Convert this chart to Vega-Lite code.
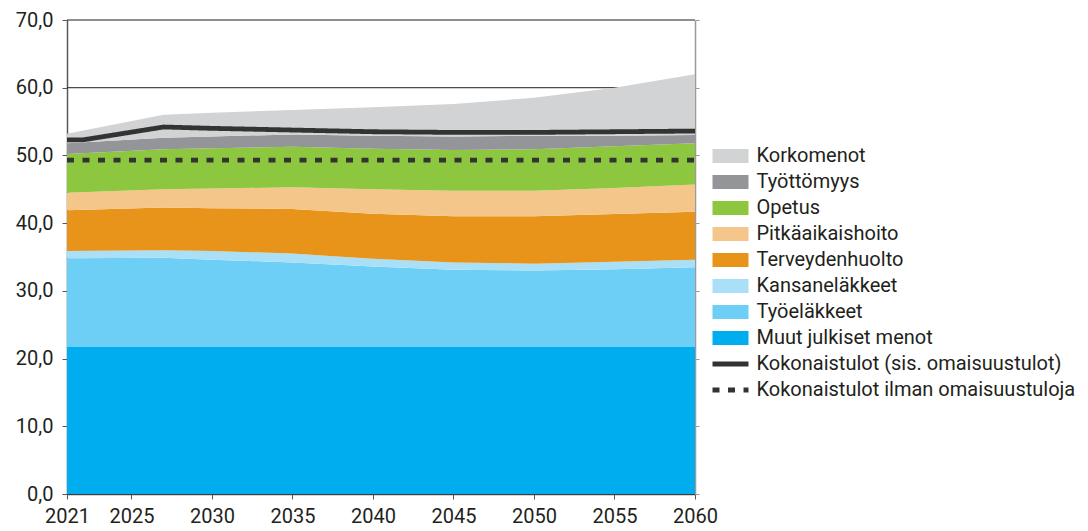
{
  "$schema": "https://vega.github.io/schema/vega-lite/v6.json",
  "width": 628,
  "height": 474,
  "autosize": {"type": "none"},
  "padding": {"left": 67, "top": 20, "right": 393, "bottom": 37},
  "background": "white",
  "config": {
    "view": {"stroke": null},
    "font": "Roboto",
    "axis": {"labelFont": "Roboto", "labelFontSize": 20, "labelColor": "#231f20", "domainColor": "#58595b", "tickColor": "#58595b", "domainWidth": 1.5, "tickWidth": 1, "tickSize": 5, "grid": false, "title": null, "zindex": 1},
    "legend": {"labelFont": "Roboto", "labelFontSize": 20, "labelColor": "#231f20", "labelLimit": 500, "rowPadding": 6, "labelOffset": 16, "symbolSize": 196, "symbolLimit": 20, "title": null}
  },
  "datasets": {
    "areas": [
      {"year": 2021, "Muut julkiset menot": 21.7, "Työeläkkeet": 13.1, "Kansaneläkkeet": 1.1, "Terveydenhuolto": 6.0, "Pitkäaikaishoito": 2.6, "Opetus": 5.7, "Työttömyys": 1.6, "Korkomenot": 1.4},
      {"year": 2027, "Muut julkiset menot": 21.7, "Työeläkkeet": 13.2, "Kansaneläkkeet": 1.1, "Terveydenhuolto": 6.3, "Pitkäaikaishoito": 2.7, "Opetus": 5.9, "Työttömyys": 1.7, "Korkomenot": 3.4},
      {"year": 2030, "Muut julkiset menot": 21.7, "Työeläkkeet": 12.9, "Kansaneläkkeet": 1.3, "Terveydenhuolto": 6.3, "Pitkäaikaishoito": 2.9, "Opetus": 5.95, "Työttömyys": 1.75, "Korkomenot": 3.5},
      {"year": 2035, "Muut julkiset menot": 21.7, "Työeläkkeet": 12.5, "Kansaneläkkeet": 1.3, "Terveydenhuolto": 6.6, "Pitkäaikaishoito": 3.2, "Opetus": 6.0, "Työttömyys": 1.8, "Korkomenot": 3.6},
      {"year": 2040, "Muut julkiset menot": 21.7, "Työeläkkeet": 11.9, "Kansaneläkkeet": 1.15, "Terveydenhuolto": 6.65, "Pitkäaikaishoito": 3.6, "Opetus": 6.0, "Työttömyys": 1.9, "Korkomenot": 4.2},
      {"year": 2045, "Muut julkiset menot": 21.7, "Työeläkkeet": 11.4, "Kansaneläkkeet": 1.1, "Terveydenhuolto": 6.8, "Pitkäaikaishoito": 3.8, "Opetus": 6.0, "Työttömyys": 2.0, "Korkomenot": 4.8},
      {"year": 2050, "Muut julkiset menot": 21.7, "Työeläkkeet": 11.3, "Kansaneläkkeet": 1.0, "Terveydenhuolto": 7.0, "Pitkäaikaishoito": 3.8, "Opetus": 6.1, "Työttömyys": 2.0, "Korkomenot": 5.6},
      {"year": 2055, "Muut julkiset menot": 21.7, "Työeläkkeet": 11.5, "Kansaneläkkeet": 1.1, "Terveydenhuolto": 7.05, "Pitkäaikaishoito": 3.85, "Opetus": 6.15, "Työttömyys": 1.55, "Korkomenot": 7.1},
      {"year": 2060, "Muut julkiset menot": 21.7, "Työeläkkeet": 11.8, "Kansaneläkkeet": 1.1, "Terveydenhuolto": 7.1, "Pitkäaikaishoito": 4.0, "Opetus": 6.1, "Työttömyys": 1.2, "Korkomenot": 9.0}
    ],
    "lines": [
      {"year": 2021, "series": "Kokonaistulot (sis. omaisuustulot)", "value": 52.3},
      {"year": 2022, "series": "Kokonaistulot (sis. omaisuustulot)", "value": 52.3},
      {"year": 2027, "series": "Kokonaistulot (sis. omaisuustulot)", "value": 54.2},
      {"year": 2030, "series": "Kokonaistulot (sis. omaisuustulot)", "value": 54.0},
      {"year": 2035, "series": "Kokonaistulot (sis. omaisuustulot)", "value": 53.75},
      {"year": 2040, "series": "Kokonaistulot (sis. omaisuustulot)", "value": 53.5},
      {"year": 2045, "series": "Kokonaistulot (sis. omaisuustulot)", "value": 53.4},
      {"year": 2050, "series": "Kokonaistulot (sis. omaisuustulot)", "value": 53.4},
      {"year": 2055, "series": "Kokonaistulot (sis. omaisuustulot)", "value": 53.5},
      {"year": 2060, "series": "Kokonaistulot (sis. omaisuustulot)", "value": 53.6},
      {"year": 2021, "series": "Kokonaistulot ilman omaisuustuloja", "value": 49.3},
      {"year": 2060, "series": "Kokonaistulot ilman omaisuustuloja", "value": 49.3}
    ],
    "grid": [{"v": 0}, {"v": 10}, {"v": 20}, {"v": 30}, {"v": 40}, {"v": 50}, {"v": 60}, {"v": 70}]
  },
  "resolve": {"axis": {"y": "independent"}},
  "layer": [
    {
      "data": {"name": "grid"},
      "mark": {"type": "rule", "color": "#231f20", "strokeWidth": 1},
      "encoding": {
        "y": {"field": "v", "type": "quantitative", "scale": {"domain": [0, 70], "nice": false, "zero": true}, "axis": null}
      }
    },
    {
      "data": {"name": "areas"},
      "transform": [
        {"fold": ["Muut julkiset menot", "Työeläkkeet", "Kansaneläkkeet", "Terveydenhuolto", "Pitkäaikaishoito", "Opetus", "Työttömyys", "Korkomenot"], "as": ["series", "value"]},
        {"calculate": "indexof(['Muut julkiset menot','Työeläkkeet','Kansaneläkkeet','Terveydenhuolto','Pitkäaikaishoito','Opetus','Työttömyys','Korkomenot'], datum.series)", "as": "ord"}
      ],
      "mark": {"type": "area", "opacity": 1},
      "encoding": {
        "x": {"field": "year", "type": "quantitative", "scale": {"domain": [2021, 2060], "nice": false, "zero": false},
              "axis": {"values": [2021, 2025, 2030, 2035, 2040, 2045, 2050, 2055, 2060], "format": "d", "labelPadding": 7, "labelFlush": false}},
        "y": {"field": "value", "type": "quantitative", "stack": "zero", "scale": {"domain": [0, 70], "nice": false},
              "axis": {"orient": "left", "values": [0, 10, 20, 30, 40, 50, 60, 70], "labelExpr": "replace(format(datum.value, '.1f'), '.', ',')", "labelPadding": 9}},
        "order": {"field": "ord", "type": "quantitative"},
        "fill": {
          "field": "series", "type": "nominal",
          "scale": {
            "domain": ["Korkomenot", "Työttömyys", "Opetus", "Pitkäaikaishoito", "Terveydenhuolto", "Kansaneläkkeet", "Työeläkkeet", "Muut julkiset menot"],
            "range": ["#d1d3d4", "#939598", "#8dc63f", "#f5c68a", "#e8941a", "#aadff8", "#6dcff6", "#00aeef"]
          },
          "legend": {"orient": "none", "legendX": 653.5, "legendY": 126, "symbolType": "M-2.57,-1H2.57V1H-2.57Z", "symbolOpacity": 1}
        }
      }
    },
    {
      "data": {"name": "lines"},
      "mark": {"type": "line", "strokeWidth": 4.8, "strokeCap": "butt"},
      "encoding": {
        "x": {"field": "year", "type": "quantitative"},
        "y": {"field": "value", "type": "quantitative", "axis": {"orient": "right", "values": [0, 10, 20, 30, 40, 50, 60, 70], "labels": false, "tickSize": 4, "domainColor": "#9a9a9a", "tickColor": "#9a9a9a", "domainWidth": 1.5}},
        "stroke": {
          "field": "series", "type": "nominal",
          "scale": {"domain": ["Kokonaistulot (sis. omaisuustulot)", "Kokonaistulot ilman omaisuustuloja"], "range": ["#333333", "#333333"]},
          "legend": {"orient": "none", "legendX": 653.5, "legendY": 334, "symbolType": "M-2.57,0H2.57", "symbolStrokeWidth": 5}
        },
        "strokeDash": {
          "field": "series", "type": "nominal",
          "scale": {"domain": ["Kokonaistulot (sis. omaisuustulot)", "Kokonaistulot ilman omaisuustuloja"], "range": [[1, 0], [7, 8.5]]},
          "legend": {"orient": "none", "legendX": 653.5, "legendY": 334, "symbolType": "M-2.57,0H2.57", "symbolStrokeWidth": 5}
        }
      }
    }
  ]
}
